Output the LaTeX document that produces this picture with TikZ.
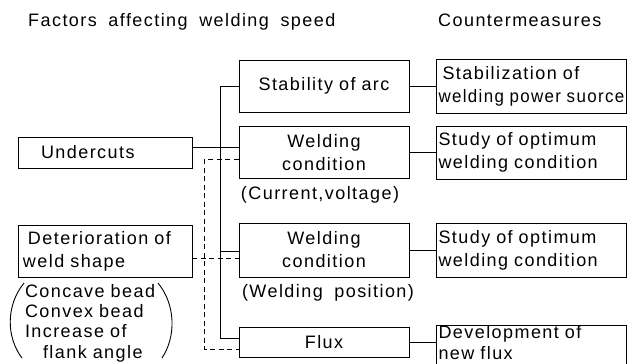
\documentclass[tikz,border=0pt]{standalone}
\usepackage{fontspec}
\setmainfont{Liberation Sans}[LetterSpace=8.0,WordSpace=1.8]
\usepackage{graphicx}
\usepackage{tikz}
\usetikzlibrary{positioning}

\tikzset{
  every node/.style={font=\fontsize{18}{23}\selectfont, inner sep=0pt},
  box/.style={draw, line width=0.9pt},
  leftbox/.style={box, minimum width=174pt, text width=164pt, align=left},
  midbox/.style={box, minimum width=170pt, text width=164pt, align=center},
  rightbox/.style={box, minimum width=190pt, text width=185pt, align=left},
  link/.style={line width=0.9pt},
  dashlink/.style={line width=0.9pt, dash pattern=on 5pt off 3.5pt},
}

\begin{document}
\begin{tikzpicture}[x=1pt,y=-1pt]
\useasboundingbox (0,0) rectangle (627,364);

% headings
\node[anchor=base west] (factors) at (28,27) {Factors affecting welding speed};
\node[anchor=base west] (counter) at (438,27) {Countermeasures};

% factors
\node[leftbox, minimum height=31pt] (undercuts) at (105,152.5) {\hspace*{18pt}Undercuts};
\node[leftbox, minimum height=52pt] (deterioration) at (105,251) {\hspace*{5pt}Deterioration of\\weld shape};
\node[text width=140pt, align=left, font=\fontsize{18}{20.3}\selectfont] (shapes) at (95,323)
  {Concave bead\\Convex bead\\Increase of\\\hspace*{18pt}flank angle};
\draw[link] (24,283) .. controls (6,305) and (6,337) .. (22,358);
\draw[link] (158,283) .. controls (176,305) and (176,337) .. (162,358);

% middle column
\node[midbox, minimum height=52pt] (stab) at (324,86) {Stability of arc};
\node[midbox, minimum height=52pt] (wcurrent) at (324,152.5) {Welding\\condition};
\node (current) at (320,195) {(Current,voltage)};
\node[midbox, minimum height=54pt] (wposition) at (324,250) {Welding\\condition};
\node (position) at (328,293) {(Welding position)};
\node[midbox, minimum height=30pt] (flux) at (324,342) {Flux};

% countermeasures
\node[rightbox, minimum height=54pt] (power) at (531,86)
  {\hspace*{4pt}Stabilization of\\\scalebox{0.94}[1]{welding power suorce}};
\node[rightbox, minimum height=53pt] (study1) at (531,152.5) {Study of optimum\\welding condition};
\node[rightbox, minimum height=54pt] (study2) at (531,250) {Study of optimum\\welding condition};
\node[rightbox, minimum height=36pt, font=\fontsize{18}{21}\selectfont] (newflux) at (531,345)
  {Development of\\new flux\rule[-6pt]{0pt}{6pt}};

% undercuts: solid
\draw[link] ([yshift=5.5pt]undercuts.east) -- ([yshift=5.5pt]wcurrent.west);
\draw[link] (stab.west) -| ([xshift=-18pt,yshift=4pt]flux.west) -- ([yshift=4pt]flux.west);
\draw[link] ([yshift=-1.5pt]wposition.west) -- ++(-18pt,0);

% weld shape: dashed
\draw[dashlink] ([yshift=-6.5pt]wcurrent.west) -| ([xshift=-34pt,yshift=-7pt]flux.west) -- ([yshift=-7pt]flux.west);
\draw[dashlink] ([yshift=-7pt]deterioration.east) -- ([yshift=-8pt]wposition.west);

% to countermeasures
\draw[link] (stab.east) -- (power.west);
\draw[link] (wcurrent.east) -- (study1.west);
\draw[link] (wposition.east) -- (study2.west);
\draw[link] (flux.east) -- (flux.east -| newflux.west);
\end{tikzpicture}
\end{document}
